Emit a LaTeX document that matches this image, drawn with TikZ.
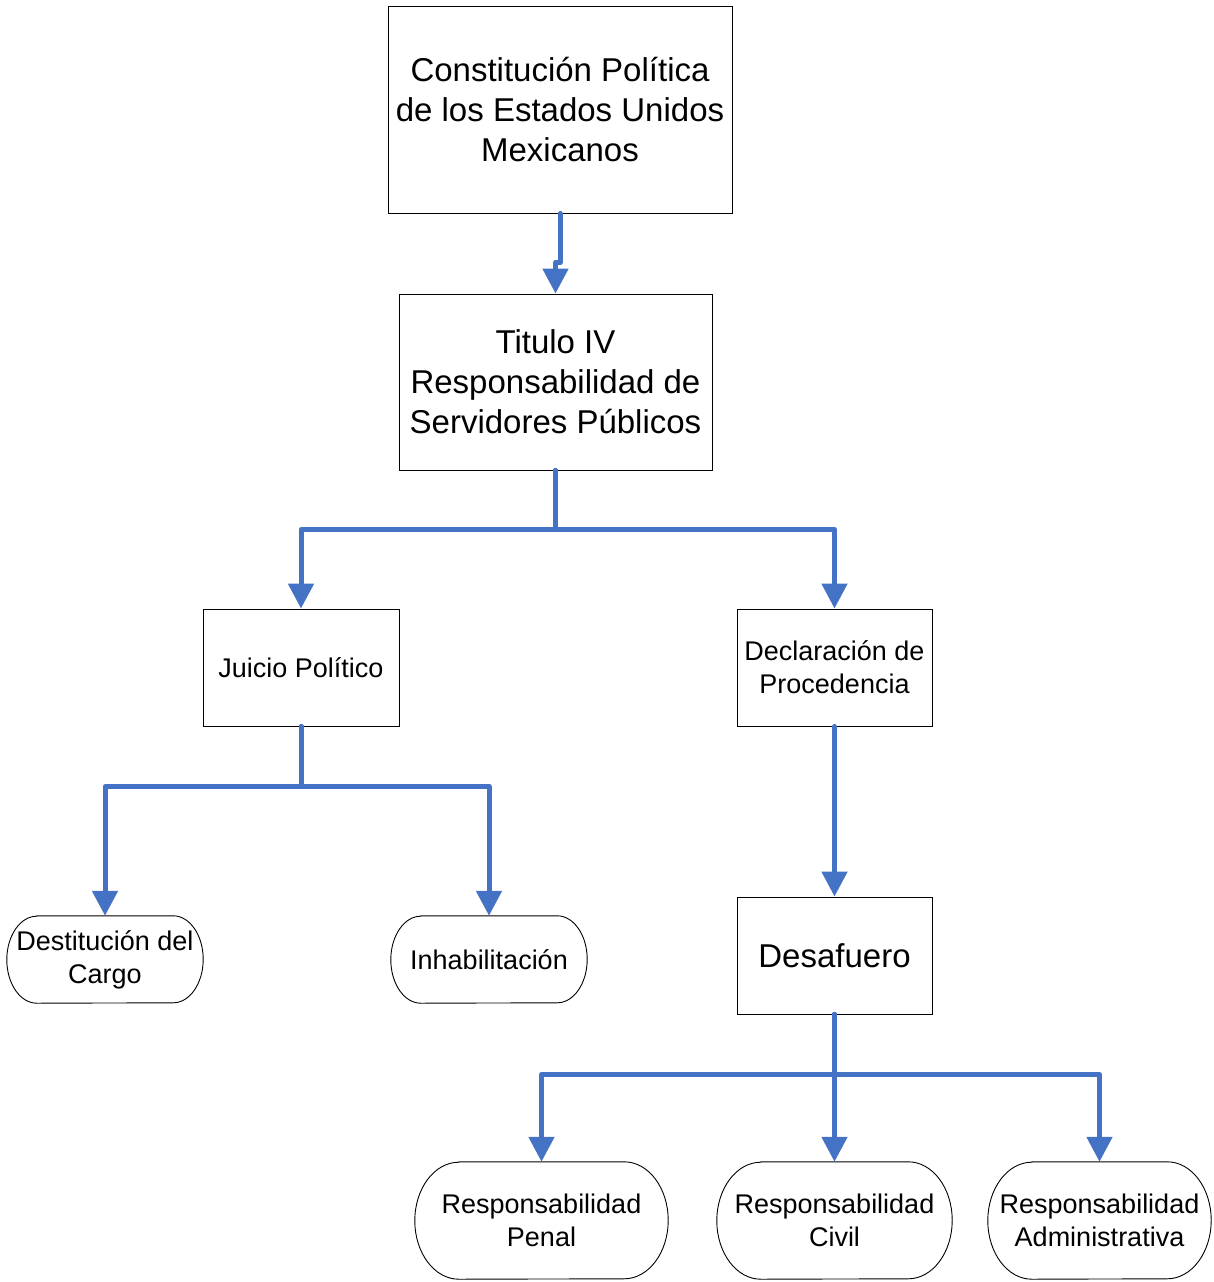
\documentclass[tikz,border=0pt]{standalone}
\usepackage{fontspec}
\setmainfont{Liberation Sans}
\usetikzlibrary{arrows.meta}
\definecolor{linkblue}{RGB}{68,114,196}

\begin{document}
\begin{tikzpicture}[x=1pt,y=1pt,
  box/.style={draw=black, line width=0.9pt, inner sep=0pt, align=center},
  term/.style={inner sep=0pt, align=center},
  outline/.style={draw=black, line width=0.9pt},
  link/.style={draw=linkblue, line width=5pt, line cap=round, line join=round,
    -{Triangle[width=25pt,length=25pt]}},
  big/.style={font=\fontsize{33}{40}\selectfont},
  mid/.style={font=\fontsize{27}{33}\selectfont}]

\useasboundingbox (0,0) rectangle (1213,-1282);

% rectangular boxes
\node[box, big, minimum width=344pt, minimum height=207pt] (A) at (560,-109.5)
  {Constitución Política\\de los Estados Unidos\\Mexicanos};
\node[box, big, minimum width=313pt, minimum height=176pt] (B) at (555.5,-382)
  {Titulo IV\\Responsabilidad de\\Servidores Públicos};
\node[box, mid, minimum width=196pt, minimum height=117pt] (C) at (301,-667.5)
  {Juicio Político};
\node[box, mid, minimum width=195pt, minimum height=117pt] (D) at (834.5,-667.5)
  {Declaración de\\Procedencia};
\node[box, big, minimum width=195pt, minimum height=117pt] (E) at (834.5,-955.5)
  {Desafuero};

% terminal (stadium) shapes
\node[term, mid, minimum width=196pt, minimum height=87pt] (F) at (105,-959.5)
  {Destitución del\\Cargo};
\node[term, mid, minimum width=196pt, minimum height=87pt] (G) at (489,-959.5)
  {Inhabilitación};
\node[term, mid, minimum width=253pt, minimum height=117pt] (H) at (541.5,-1220.5)
  {Responsabilidad\\Penal};
\node[term, mid, minimum width=235pt, minimum height=117pt] (I) at (834.5,-1220.5)
  {Responsabilidad\\Civil};
\node[term, mid, minimum width=223pt, minimum height=117pt] (J) at (1099.5,-1220.5)
  {Responsabilidad\\Administrativa};

\foreach \n/\rx/\ry in {F/30/43.5, G/30/43.5, H/44/58.5, I/44/58.5, J/44/58.5}{
  \draw[outline] ([xshift=\rx pt]\n.north west) -- ([xshift=-\rx pt]\n.north east)
    arc[start angle=90, end angle=-90, x radius=\rx pt, y radius=\ry pt]
    -- ([xshift=\rx pt]\n.south west)
    arc[start angle=270, end angle=90, x radius=\rx pt, y radius=\ry pt] -- cycle;
}

% connectors
\draw[link] (A.south) -- ++(0,-49) -| (B.north);
\draw[link] (B.south) -- ++(0,-59) -| (C.north);
\draw[link] (B.south) -- ++(0,-59) -| (D.north);
\draw[link] (C.south) -- ++(0,-60) -| (F.north);
\draw[link] (C.south) -- ++(0,-60) -| (G.north);
\draw[link] (D.south) -- (E.north);
\draw[link] (E.south) -- ++(0,-60) -| (H.north);
\draw[link] (E.south) -- ++(0,-60) -| (J.north);
\draw[link] (E.south) -- (I.north);

\end{tikzpicture}
\end{document}
